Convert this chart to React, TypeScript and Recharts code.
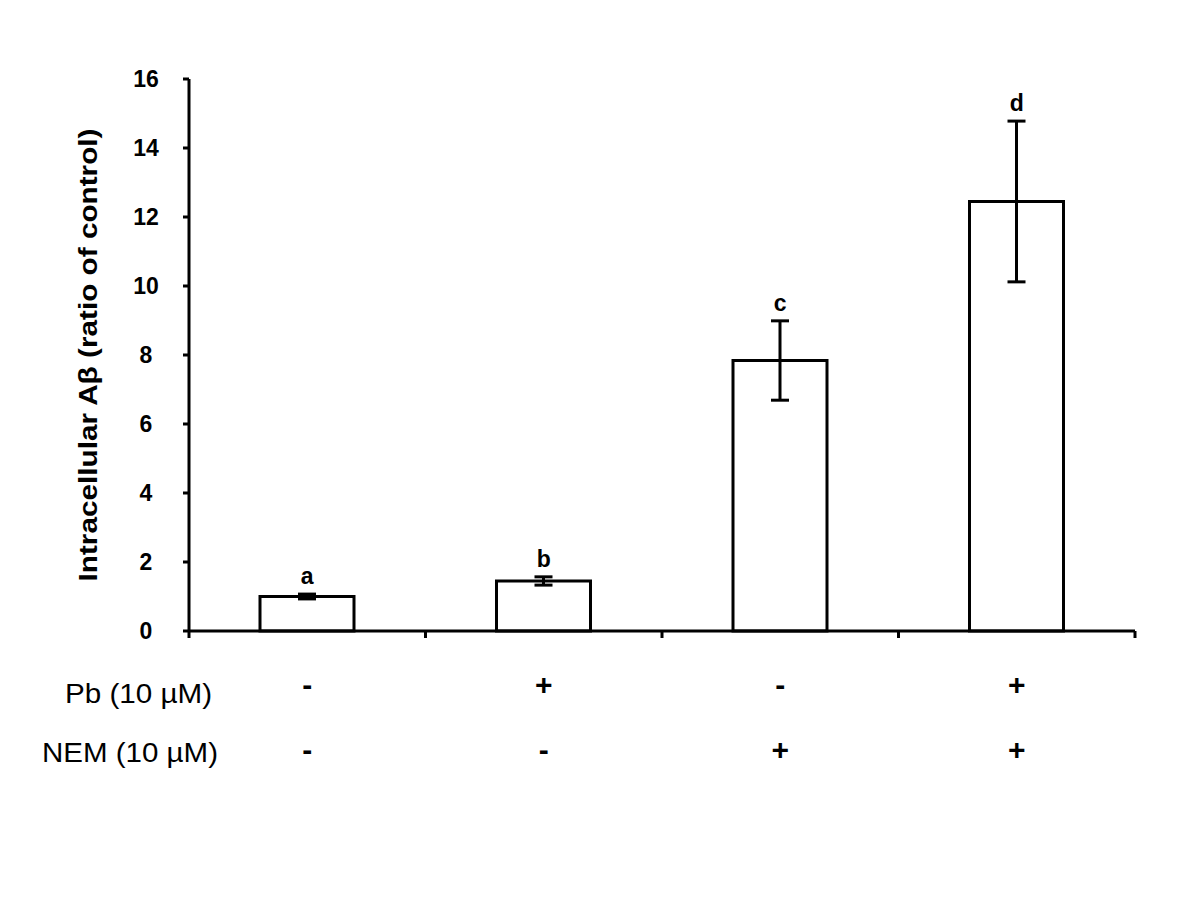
import React from "react";
import { ComposedChart, Bar, Line, XAxis, YAxis, ErrorBar, LabelList } from "recharts";

const groups = ["g1", "g2", "g3", "g4"];
const means = [1.0, 1.45, 7.84, 12.45];
const sems = [0.07, 0.12, 1.15, 2.33];
const letters = ["a", "b", "c", "d"];
const pbSigns = ["-", "+", "-", "+"];
const nemSigns = ["-", "-", "+", "+"];
const yTicks = [0, 2, 4, 6, 8, 10, 12, 14, 16];
// group boundaries (integers) get tick marks, group centres (x.5) carry the +/- signs
const edgeTicks = [0, 0.5, 1, 1.5, 2, 2.5, 3, 3.5, 4];

const FONT = "'Liberation Sans', Arial, sans-serif";

const data = groups.map((name, i) => ({
  name,
  pos: i + 0.5,
  mean: means[i],
  err: sems[i],
  top: means[i] + sems[i],
  letter: letters[i],
}));

function YTick({ x, y, payload }: any) {
  return (
    <text x={x - 37} y={y} dy="0.355em" textAnchor="middle" fontFamily={FONT} fontWeight="bold" fontSize={23} fill="#000">
      {payload.value}
    </text>
  );
}

function EdgeTick({ x, y, payload }: any) {
  const v = payload.value as number;
  if (Number.isInteger(v)) {
    return <line x1={x} x2={x} y1={y} y2={y + 7} stroke="#000" strokeWidth={3} />;
  }
  const i = Math.floor(v);
  return (
    <g>
      {i === 0 && (
        <>
          <text x={212} y={y + 72} textAnchor="end" fontFamily={FONT} fontSize={27} fill="#000" textLength={147} lengthAdjust="spacingAndGlyphs">
            Pb (10 µM)
          </text>
          <text x={218} y={y + 131} textAnchor="end" fontFamily={FONT} fontSize={27} fill="#000" textLength={176} lengthAdjust="spacingAndGlyphs">
            NEM (10 µM)
          </text>
        </>
      )}
      <text x={x} y={y + 64} textAnchor="middle" fontFamily={FONT} fontWeight="bold" fontSize={30} fill="#000">
        {pbSigns[i]}
      </text>
      <text x={x} y={y + 129} textAnchor="middle" fontFamily={FONT} fontWeight="bold" fontSize={30} fill="#000">
        {nemSigns[i]}
      </text>
    </g>
  );
}

function YTitle({ viewBox }: any) {
  const cx = viewBox.x - 12;
  const cy = viewBox.y + viewBox.height / 2;
  return (
    <text
      x={cx}
      y={cy}
      transform={`rotate(-90, ${cx}, ${cy})`}
      textAnchor="middle"
      fontFamily={FONT}
      fontWeight="bold"
      fontSize={25}
      fill="#000"
      textLength={453}
      lengthAdjust="spacingAndGlyphs"
    >
      Intracellular Aβ (ratio of control)
    </text>
  );
}

export default function App() {
  return (
    <div style={{ position: "absolute", left: 0, top: 0, width: 1200, height: 900, background: "#fff" }}>
      <ComposedChart width={1200} height={900} data={data} margin={{ top: 79, right: 65, bottom: 109, left: 109 }}>
        <XAxis xAxisId="cat" dataKey="name" hide height={0} />
        <XAxis
          xAxisId="edge"
          dataKey="pos"
          type="number"
          domain={[0, 4]}
          allowDataOverflow
          ticks={edgeTicks}
          interval={0}
          height={160}
          tickSize={0}
          tickMargin={0}
          tickLine={false}
          axisLine={{ stroke: "#000", strokeWidth: 3 }}
          tick={<EdgeTick />}
        />
        <YAxis
          width={80}
          domain={[0, 16]}
          ticks={yTicks}
          interval={0}
          tickSize={6}
          tickMargin={0}
          axisLine={{ stroke: "#000", strokeWidth: 3 }}
          tickLine={{ stroke: "#000", strokeWidth: 3 }}
          tick={<YTick />}
          label={{ content: (p: any) => <YTitle {...p} /> }}
        />
        <Bar xAxisId="cat" dataKey="mean" barSize={94} fill="#fff" stroke="#000" strokeWidth={3} isAnimationActive={false}>
          <ErrorBar dataKey="err" width={9} stroke="#000" strokeWidth={3} direction="y" />
        </Bar>
        <Line
          xAxisId="cat"
          dataKey="top"
          stroke="none"
          dot={false}
          activeDot={false}
          legendType="none"
          isAnimationActive={false}
        >
          <LabelList dataKey="letter" position="top" offset={10} fontFamily={FONT} fontWeight="bold" fontSize={23} fill="#000" />
        </Line>
      </ComposedChart>
    </div>
  );
}
